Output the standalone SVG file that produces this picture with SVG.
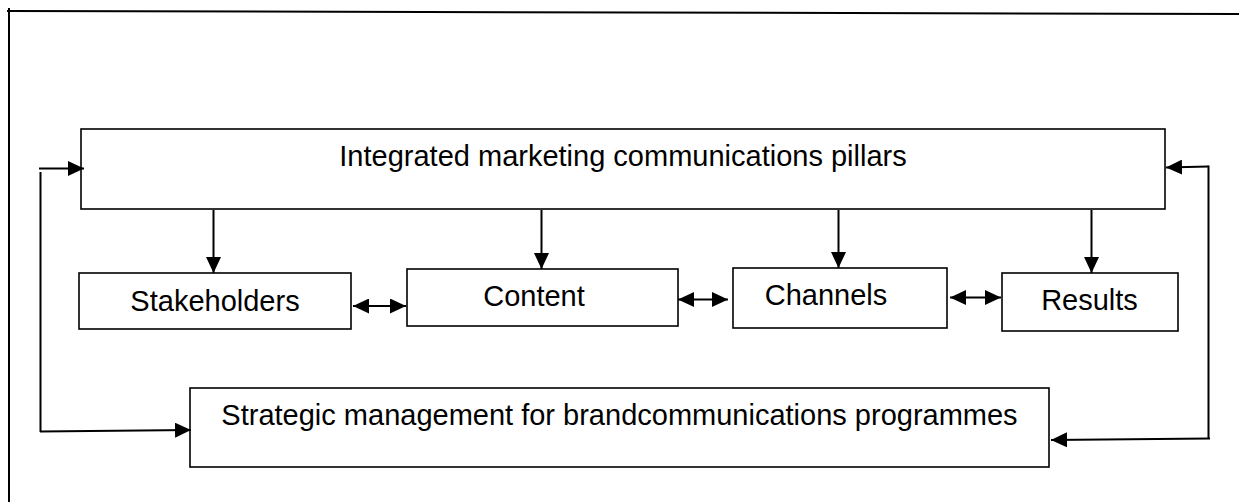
<svg xmlns="http://www.w3.org/2000/svg" width="1239" height="502" viewBox="0 0 1239 502">
<style>
.box{fill:#fff;stroke:#000;stroke-width:1.6}
.lbl{font-family:"Liberation Sans",Arial,sans-serif;font-size:29px;fill:#000;text-anchor:middle}
.ln{fill:none;stroke:#000;stroke-width:2}
.frame{fill:none;stroke:#000;stroke-width:2}
</style>
<defs>
<marker id="ah" viewBox="0 0 16 15" refX="16" refY="7.5" markerWidth="16" markerHeight="15" markerUnits="userSpaceOnUse" orient="auto-start-reverse">
<path d="M0,0 L16,7.5 L0,15 z" fill="#000"/>
</marker>
</defs>
<g id="frame">
<line class="frame" x1="7" y1="11" x2="1239" y2="14"/>
<line class="frame" x1="9" y1="8" x2="9" y2="502"/>
</g>
<g id="pillars">
<rect class="box" x="81" y="129" width="1084" height="80"/>
<text class="lbl" x="623" y="166">Integrated marketing communications pillars</text>
</g>
<g id="stakeholders">
<rect class="box" x="79" y="273" width="272" height="56"/>
<text class="lbl" x="215" y="311">Stakeholders</text>
</g>
<g id="content">
<rect class="box" x="407" y="269" width="271" height="57"/>
<text class="lbl" x="534" y="306">Content</text>
</g>
<g id="channels">
<rect class="box" x="733" y="268" width="214" height="60"/>
<text class="lbl" x="826" y="305">Channels</text>
</g>
<g id="results">
<rect class="box" x="1002" y="273" width="176" height="58"/>
<text class="lbl" x="1089.5" y="310">Results</text>
</g>
<g id="strategic">
<rect class="box" x="190" y="388" width="859" height="79"/>
<text class="lbl" x="619.5" y="425">Strategic management for brandcommunications programmes</text>
</g>
<g id="connectors">
<line class="ln" x1="213.5" y1="210" x2="213.5" y2="273" marker-end="url(#ah)"/>
<line class="ln" x1="541.5" y1="210" x2="541.5" y2="269" marker-end="url(#ah)"/>
<line class="ln" x1="838.5" y1="210" x2="838.5" y2="268" marker-end="url(#ah)"/>
<line class="ln" x1="1091.5" y1="210" x2="1091.5" y2="273" marker-end="url(#ah)"/>
<line class="ln" x1="353" y1="306" x2="406" y2="306" marker-start="url(#ah)" marker-end="url(#ah)"/>
<line class="ln" x1="678" y1="299.5" x2="728" y2="299.5" marker-start="url(#ah)" marker-end="url(#ah)"/>
<line class="ln" x1="950" y1="297.5" x2="1001" y2="297.5" marker-start="url(#ah)" marker-end="url(#ah)"/>
<line class="ln" x1="39" y1="168.5" x2="84" y2="168.5" marker-end="url(#ah)"/>
<line class="ln" x1="40.5" y1="172" x2="40.5" y2="432"/>
<polyline class="ln" points="40,431.5 191,430" marker-end="url(#ah)"/>
<polyline class="ln" points="1208.5,166.5 1166,167.5" marker-end="url(#ah)"/>
<line class="ln" x1="1208.5" y1="165.5" x2="1208.5" y2="438.5"/>
<polyline class="ln" points="1210,438.5 1051,440" marker-end="url(#ah)"/>
</g>
</svg>
